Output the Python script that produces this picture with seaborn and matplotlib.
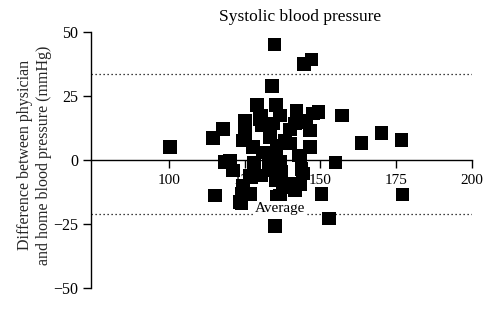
import matplotlib
matplotlib.use("Agg")
import matplotlib.pyplot as plt
import seaborn as sns
import pandas as pd

# Mean of physician and home systolic readings (mmHg)
mean_bp = [100.3, 134.8, 134.1, 144.6, 147.1, 157.1, 163.6, 170.2, 176.8, 155.0,
           177.1, 150.4, 152.9, 135.0, 115.2, 135.5, 124.0, 126.7, 114.6, 117.9,
           118.5, 120.1, 121.2, 124.5, 124.5, 125.1, 129.1, 135.3, 130.0, 130.6,
           134.4, 136.6, 142.1, 144.3, 127.8, 133.3, 138.3, 135.5, 143.2, 139.9,
           126.7, 132.8, 135.0, 137.2, 144.3, 146.5, 141.6, 145.4, 149.3, 146.5,
           143.8, 136.6, 137.7, 141.0, 143.2, 136.6, 127.3, 130.6, 134.4, 139.3,
           123.4, 130.6, 147.6, 125.1, 131.0, 128.0, 140.0, 124.0, 142.7, 141.6,
           135.5, 135.3]
# Difference physician minus home (mmHg)
diff_bp = [5.1, 45.2, 28.9, 37.4, 39.2, 17.4, 6.6, 10.5, 7.9, -1.0,
           -13.4, -13.2, -22.9, -25.8, -13.8, -14.5, -17.0, -13.2, 8.7, 12.2,
           -0.8, -0.1, -4.0, -9.9, 7.7, 15.5, 21.4, 21.4, 16.1, 13.5,
           14.2, 17.4, 19.4, 15.5, 5.1, 9.0, 7.7, 5.7, 1.8, 6.4,
           -6.0, -1.4, -4.0, -4.7, -5.3, 5.1, 14.2, 14.8, 18.7, 11.6,
           -3.4, -0.8, -9.9, -9.3, -9.3, -13.8, -6.6, -6.0, -3.4, -10.5,
           -16.4, 17.4, 18.1, 10.5, 3.0, -1.0, 12.0, -13.2, 1.8, -11.8,
           2.5, -8.0]

# Limits of agreement
upper_loa = 33.6
lower_loa = -21.0

x_ticks = [100, 125, 150, 175, 200]
y_ticks = [-50, -25, 0, 25, 50]

df = pd.DataFrame({"mean": mean_bp, "diff": diff_bp})

sns.set_style("white")
plt.rcParams["font.family"] = ["Liberation Serif", "DejaVu Serif"]

fig = plt.figure(figsize=(5.0, 3.23), dpi=100)
ax = fig.add_axes([0.182, 0.108, 0.762, 0.793])

sns.scatterplot(data=df, x="mean", y="diff", marker="s", s=95,
                color="black", edgecolor="none", linewidth=0, ax=ax, zorder=3)

ax.axhline(upper_loa, color="black", linestyle=(0, (1, 2.2)), linewidth=0.9, zorder=2)
ax.axhline(lower_loa, color="black", linestyle=(0, (1, 2.2)), linewidth=0.9, zorder=2)

ax.set_xlim(74.3, 200)
ax.set_ylim(-50, 50)
ax.set_xticks(x_ticks)
ax.set_yticks(y_ticks)
ax.set_yticklabels([f"{v}".replace("-", "\u2212") for v in y_ticks])

ax.spines["top"].set_visible(False)
ax.spines["right"].set_visible(False)
ax.spines["bottom"].set_position(("data", 0))
for sp in ("left", "bottom"):
    ax.spines[sp].set_color("black")
    ax.spines[sp].set_linewidth(1.0)

ax.tick_params(axis="both", direction="out", length=6, width=1.0,
               colors="black", bottom=True, left=True)
ax.tick_params(axis="x", labelsize=11, pad=4)
ax.tick_params(axis="y", labelsize=11.5, pad=3)

ax.set_xlabel("")
ax.set_ylabel("Difference between physician\nand home blood pressure (mmHg)",
              fontsize=11.5, linespacing=1.2)
ax.yaxis.set_label_coords(-0.103, 0.52)

ax.text(136.6, -19.0, "Average", ha="center", va="center", fontsize=11,
        color="black", zorder=4,
        bbox=dict(facecolor="white", edgecolor="none", pad=0.5))

fig.text(0.6, 0.947, "Systolic blood pressure", ha="center", va="center",
         fontsize=12.5, color="black")

fig.savefig("out.png", dpi=100)
